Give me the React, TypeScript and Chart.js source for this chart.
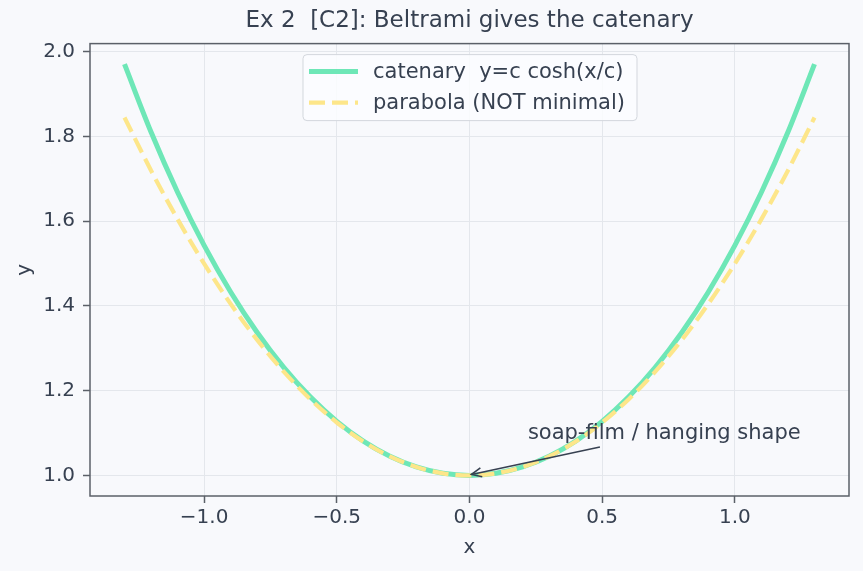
import React, { useEffect, useRef } from 'react';
import { Chart, registerables } from 'chart.js';

Chart.register(...registerables);

const xValues = [-1.3, -1.2, -1.1, -1.0, -0.9, -0.8, -0.7, -0.6, -0.5, -0.4, -0.3, -0.2, -0.1, 0.0, 0.1, 0.2, 0.3, 0.4, 0.5, 0.6, 0.7, 0.8, 0.9, 1.0, 1.1, 1.2, 1.3];
const catenaryY = [1.9709, 1.8107, 1.6685, 1.5431, 1.4331, 1.3374, 1.2552, 1.1855, 1.1276, 1.0811, 1.0453, 1.0201, 1.005, 1.0, 1.005, 1.0201, 1.0453, 1.0811, 1.1276, 1.1855, 1.2552, 1.3374, 1.4331, 1.5431, 1.6685, 1.8107, 1.9709];
const parabolaY = [1.845, 1.72, 1.605, 1.5, 1.405, 1.32, 1.245, 1.18, 1.125, 1.08, 1.045, 1.02, 1.005, 1.0, 1.005, 1.02, 1.045, 1.08, 1.125, 1.18, 1.245, 1.32, 1.405, 1.5, 1.605, 1.72, 1.845];
const xTicks = [-1.0, -0.5, 0.0, 0.5, 1.0];
const yTicks = [1.0, 1.2, 1.4, 1.6, 1.8, 2.0];
const xRange = [-1.43, 1.43];
const yRange = [0.9515, 2.0194];
const titleText = 'Ex 2  [C2]: Beltrami gives the catenary';
const seriesLabels = ['catenary  y=c cosh(x/c)', 'parabola (NOT minimal)'];
const annotationText = 'soap-film / hanging shape';
const annotationTarget = [0.0, 1.0];
const annotationTextAt = [0.22, 1.1];

const FONT = '"DejaVu Sans", sans-serif';
const TEXT = '#374151';
const SPINE = '#5b6068';
const GRID = '#e4e7ec';
const BG = '#f8f9fc';
const GREEN = '#6ee7b7';
const YELLOW = '#fde68a';

const bgPlugin = {
  id: 'bg',
  beforeDraw(chart: any) {
    const { ctx, width, height } = chart;
    ctx.save();
    ctx.fillStyle = BG;
    ctx.fillRect(0, 0, width, height);
    ctx.restore();
  },
};

const framePlugin = {
  id: 'frame',
  afterDraw(chart: any) {
    const { ctx, chartArea, scales } = chart;
    const { left, right, top, bottom } = chartArea;
    ctx.save();
    // spines
    ctx.strokeStyle = SPINE;
    ctx.lineWidth = 1.5;
    ctx.strokeRect(left, top, right - left, bottom - top);

    // legend
    const bw = 334;
    const bh = 66;
    const bx = Math.round((left + right) / 2 - bw / 2);
    const by = top + 11;
    ctx.beginPath();
    (ctx as any).roundRect(bx, by, bw, bh, 4);
    ctx.fillStyle = 'rgba(252,253,255,0.85)';
    ctx.fill();
    ctx.strokeStyle = '#d3d7dd';
    ctx.lineWidth = 1;
    ctx.stroke();
    const rows = [by + 17, by + 48];
    const styles = [
      { color: GREEN, width: 5, dash: [] as number[] },
      { color: YELLOW, width: 4.2, dash: [16, 7] },
    ];
    styles.forEach((s, i) => {
      ctx.beginPath();
      ctx.setLineDash(s.dash);
      ctx.strokeStyle = s.color;
      ctx.lineWidth = s.width;
      ctx.moveTo(bx + 6, rows[i]);
      ctx.lineTo(bx + 55, rows[i]);
      ctx.stroke();
    });
    ctx.setLineDash([]);
    ctx.fillStyle = TEXT;
    ctx.font = `21px ${FONT}`;
    ctx.textBaseline = 'middle';
    ctx.textAlign = 'left';
    seriesLabels.forEach((t, i) => ctx.fillText(t, bx + 70, rows[i] + 1));

    // annotation
    const xs = scales.x;
    const ys = scales.y;
    const tx = xs.getPixelForValue(annotationTextAt[0]);
    const ty = ys.getPixelForValue(annotationTextAt[1]);
    ctx.font = `21px ${FONT}`;
    ctx.fillText(annotationText, tx, ty);
    const w = ctx.measureText(annotationText).width;
    const cx = tx + w / 2;
    const cy = ty;
    const px = xs.getPixelForValue(annotationTarget[0]);
    const py = ys.getPixelForValue(annotationTarget[1]);
    const t0 = 14 / (py - cy);
    const sx = cx + t0 * (px - cx);
    const sy = cy + 14;
    const ang = Math.atan2(py - sy, px - sx);
    const ex = px + 2;
    const ey = py - 1;
    ctx.strokeStyle = TEXT;
    ctx.lineWidth = 1.6;
    ctx.beginPath();
    ctx.moveTo(sx, sy);
    ctx.lineTo(ex, ey);
    ctx.stroke();
    const hl = 11;
    const ha = 0.42;
    ctx.beginPath();
    ctx.moveTo(ex - hl * Math.cos(ang - ha), ey - hl * Math.sin(ang - ha));
    ctx.lineTo(ex, ey);
    ctx.lineTo(ex - hl * Math.cos(ang + ha), ey - hl * Math.sin(ang + ha));
    ctx.stroke();
    ctx.restore();
  },
};

const fmt = (v: number) => (v < 0 ? '\u2212' + Math.abs(v).toFixed(1) : v.toFixed(1));

export default function App() {
  const ref = useRef<HTMLCanvasElement | null>(null);
  useEffect(() => {
    document.body.style.margin = '0';
    document.body.style.background = BG;
    const canvas = ref.current;
    if (!canvas) return;
    const chart = new Chart(canvas, {
      type: 'line',
      data: {
        datasets: [
          {
            label: seriesLabels[0],
            data: xValues.map((x, i) => ({ x, y: catenaryY[i] })),
            borderColor: GREEN,
            borderWidth: 5,
            pointRadius: 0,
            cubicInterpolationMode: 'monotone',
            order: 2,
          },
          {
            label: seriesLabels[1],
            data: xValues.map((x, i) => ({ x, y: parabolaY[i] })),
            borderColor: YELLOW,
            borderWidth: 4.2,
            borderDash: [16, 7],
            pointRadius: 0,
            cubicInterpolationMode: 'monotone',
            order: 1,
          },
        ],
      },
      options: {
        animation: false,
        responsive: false,
        devicePixelRatio: 1,
        layout: { padding: { left: 0, right: 14, top: 0, bottom: 0 } },
        plugins: {
          legend: { display: false },
          tooltip: { enabled: false },
          title: {
            display: true,
            fullSize: false,
            text: titleText,
            color: TEXT,
            font: { family: FONT, size: 23, weight: 'normal' },
            padding: { top: 7, bottom: 9 },
          },
        },
        scales: {
          x: {
            type: 'linear',
            min: xRange[0],
            max: xRange[1],
            afterBuildTicks: (s: any) => {
              s.ticks = xTicks.map((v) => ({ value: v }));
            },
            afterFit: (s: any) => {
              s.height = 75;
            },
            ticks: {
              color: TEXT,
              font: { family: FONT, size: 20 },
              padding: 3,
              autoSkip: false,
              maxRotation: 0,
              callback: (v: any) => fmt(Number(v)),
            },
            grid: { color: GRID, lineWidth: 1, tickLength: 7, tickColor: SPINE, tickWidth: 1.5 },
            border: { display: false },
            title: {
              display: true,
              text: 'x',
              color: TEXT,
              font: { family: FONT, size: 20 },
              padding: { top: 0, bottom: 11 },
            },
          },
          y: {
            type: 'linear',
            min: yRange[0],
            max: yRange[1],
            afterBuildTicks: (s: any) => {
              s.ticks = yTicks.map((v) => ({ value: v }));
            },
            afterFit: (s: any) => {
              s.width = 90;
            },
            ticks: {
              color: TEXT,
              font: { family: FONT, size: 20 },
              padding: 8,
              autoSkip: false,
              callback: (v: any) => Number(v).toFixed(1),
            },
            grid: { color: GRID, lineWidth: 1, tickLength: 7, tickColor: SPINE, tickWidth: 1.5 },
            border: { display: false },
            title: {
              display: true,
              text: 'y',
              color: TEXT,
              font: { family: FONT, size: 20 },
              padding: { top: 13, bottom: 0 },
            },
          },
        },
      } as any,
      plugins: [bgPlugin, framePlugin],
    });
    return () => chart.destroy();
  }, []);
  return <canvas ref={ref} width={863} height={571} style={{ display: 'block', width: 863, height: 571 }} />;
}
